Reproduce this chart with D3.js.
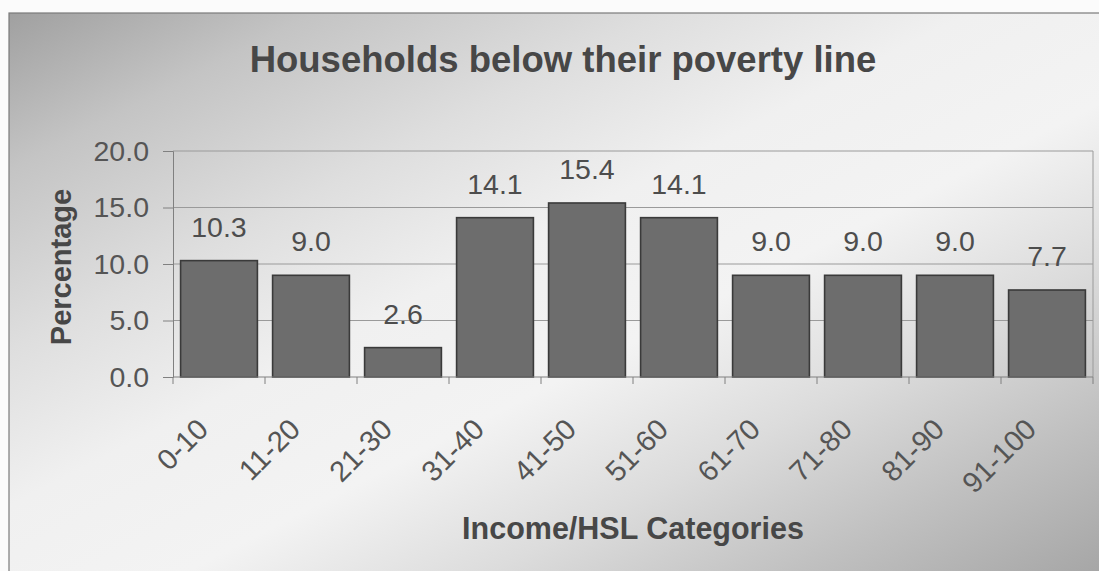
<!DOCTYPE html>
<html>
<head>
<meta charset="utf-8">
<script src="https://cdn.jsdelivr.net/npm/d3@7"></script>
<style>
  html, body { margin: 0; padding: 0; background: #fbfbfb; }
  svg { display: block; font-family: Arial, "Liberation Sans", sans-serif; }
</style>
</head>
<body>
<svg id="chart" width="1099" height="571"></svg>
<script>
// Share of households below their poverty line, by income/HSL category
const categories = ["0-10", "11-20", "21-30", "31-40", "41-50", "51-60", "61-70", "71-80", "81-90", "91-100"];
const percentages = [10.3, 9.0, 2.6, 14.1, 15.4, 14.1, 9.0, 9.0, 9.0, 7.7];
const yTicks = [0, 5, 10, 15, 20];

const chartTitle = "Households below their poverty line";
const xTitle = "Income/HSL Categories";
const yTitle = "Percentage";

const W = 1099, H = 571;
const frame = { x: 9, y: 13 };
const plot = { left: 173, top: 151, right: 1093, bottom: 377 };

const svg = d3.select("#chart");
const defs = svg.append("defs");

// Diagonal grey-white-grey chart background
const bg = defs.append("linearGradient")
  .attr("id", "bgGrad")
  .attr("x1", 0).attr("y1", 0).attr("x2", 1).attr("y2", 1);
[
  [0, "#a0a0a0"], [0.14, "#c4c4c4"], [0.3, "#dedede"], [0.44, "#f0f0f0"],
  [0.58, "#f3f3f3"], [0.72, "#dcdcdc"], [0.86, "#c0c0c0"], [1, "#a6a6a6"]
].forEach(([o, c]) => bg.append("stop").attr("offset", o).attr("stop-color", c));

svg.append("rect")
  .attr("x", frame.x).attr("y", frame.y)
  .attr("width", W - frame.x + 2).attr("height", H - frame.y + 2)
  .attr("fill", "url(#bgGrad)")
  .attr("stroke", "#7a7a7a").attr("stroke-width", 1.2);

// Scales
const x = d3.scaleBand()
  .domain(categories)
  .range([plot.left, plot.right])
  .paddingInner(0.165)
  .paddingOuter(0.0825);

const y = d3.scaleLinear()
  .domain([0, 20])
  .range([plot.bottom, plot.top]);

// Horizontal gridlines
svg.append("g")
  .selectAll("line")
  .data(yTicks.filter(d => d > 0))
  .join("line")
  .attr("x1", plot.left).attr("x2", plot.right)
  .attr("y1", d => y(d)).attr("y2", d => y(d))
  .attr("stroke", "#9a9a9a").attr("stroke-width", 1);

// Plot-area right border
svg.append("line")
  .attr("x1", plot.right).attr("x2", plot.right)
  .attr("y1", plot.top).attr("y2", plot.bottom)
  .attr("stroke", "#9a9a9a").attr("stroke-width", 1);

// Bars
svg.append("g")
  .selectAll("rect")
  .data(percentages)
  .join("rect")
  .attr("x", (d, i) => x(categories[i]))
  .attr("y", d => y(d))
  .attr("width", x.bandwidth())
  .attr("height", d => y(0) - y(d))
  .attr("fill", "#6d6d6d")
  .attr("stroke", "#3a3a3a")
  .attr("stroke-width", 1.6);

// Value labels above bars
svg.append("g")
  .selectAll("text")
  .data(percentages)
  .join("text")
  .attr("x", (d, i) => x(categories[i]) + x.bandwidth() / 2)
  .attr("y", d => y(d) - 24)
  .attr("text-anchor", "middle")
  .attr("font-size", 28.5)
  .attr("fill", "#4d4d4d")
  .text(d => d.toFixed(1));

// Y axis
const yAxis = svg.append("g")
  .attr("transform", `translate(${plot.left},0)`)
  .call(d3.axisLeft(y).tickValues(yTicks).tickFormat(d3.format(".1f")).tickSize(10).tickPadding(14));
yAxis.select(".domain").attr("stroke", "#808080");
yAxis.selectAll(".tick line").attr("stroke", "#808080");
yAxis.selectAll(".tick text")
  .attr("font-size", 28.5)
  .attr("font-family", "Arial, 'Liberation Sans', sans-serif")
  .attr("fill", "#555555");

// X axis: ticks sit on band boundaries
const xAxisG = svg.append("g")
  .attr("transform", `translate(0,${plot.bottom})`);
xAxisG.append("line")
  .attr("x1", plot.left).attr("x2", plot.right)
  .attr("y1", 0).attr("y2", 0)
  .attr("stroke", "#808080");
const step = x.step();
xAxisG.selectAll("line.tick")
  .data(d3.range(categories.length + 1))
  .join("line")
  .attr("class", "tick")
  .attr("x1", i => plot.left + i * step).attr("x2", i => plot.left + i * step)
  .attr("y1", 0).attr("y2", 7)
  .attr("stroke", "#808080");
xAxisG.selectAll("text")
  .data(categories)
  .join("text")
  .attr("transform", d => `translate(${x(d) + x.bandwidth() / 2 - 9},54) rotate(-45)`)
  .attr("text-anchor", "end")
  .attr("font-size", 29)
  .attr("fill", "#555555")
  .text(d => d);

// Titles
svg.append("text")
  .attr("x", 563).attr("y", 72)
  .attr("text-anchor", "middle")
  .attr("font-size", 36.5)
  .attr("font-weight", "bold")
  .attr("fill", "#474747")
  .text(chartTitle);

svg.append("text")
  .attr("x", 633).attr("y", 539)
  .attr("text-anchor", "middle")
  .attr("font-size", 30.5)
  .attr("font-weight", "bold")
  .attr("fill", "#474747")
  .text(xTitle);

svg.append("text")
  .attr("transform", "translate(71,267) rotate(-90)")
  .attr("text-anchor", "middle")
  .attr("font-size", 29)
  .attr("font-weight", "bold")
  .attr("fill", "#474747")
  .text(yTitle);
</script>
</body>
</html>
